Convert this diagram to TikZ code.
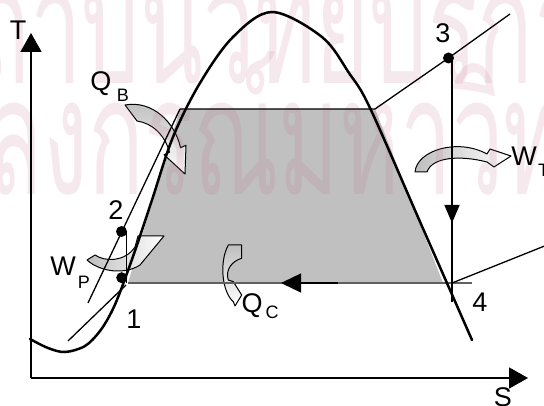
\documentclass[tikz,border=0pt]{standalone}
\usepackage{fontspec}
\setmainfont{Liberation Sans}
\newfontfamily\thaifont[Script=Thai,FakeStretch=0.565]{Loma}
\usetikzlibrary{arrows.meta}
\definecolor{wmcol}{RGB}{195,108,135}
\definecolor{regiongray}{RGB}{192,192,192}
\definecolor{edgegray}{RGB}{96,96,96}
\definecolor{arrowgray}{RGB}{190,190,190}
\begin{document}
\begin{tikzpicture}[x=1pt,y=-1pt,
  lbl/.style={font=\fontsize{27}{32}\selectfont, inner sep=0pt, anchor=base},
  sub/.style={font=\fontsize{18}{22}\selectfont, inner sep=0pt, anchor=base},
  wm/.style={font=\thaifont\fontsize{163}{163}\selectfont, text=wmcol, text opacity=0.15, inner sep=0pt, anchor=base west},
  thinline/.style={line width=1.3pt},
  axisline/.style={line width=1.8pt, -{Triangle[length=19pt,width=21pt]}},
  domeline/.style={line width=2.5pt, line cap=round},
  blockarrow/.style={draw=black, line width=1pt, line join=round},
  dot/.style={circle, fill=black, inner sep=0pt, minimum size=11pt},
]
\useasboundingbox (0,0) rectangle (544,406);
\fill[white] (0,0) rectangle (544,406);
% key points
\coordinate (O) at (31,378);
\coordinate (Ttip) at (31,33);
\coordinate (Stip) at (528,378);
\coordinate (cBL) at (128,283);
\coordinate (cTL) at (180,109);
\coordinate (cTR) at (375,109);
\coordinate (cBR) at (443,283);
\coordinate (p4) at (452,283);
% gray region
\fill[regiongray] (cBL) -- (cTL) -- (cTR) -- (cBR) -- cycle;
% block arrows
\draw[blockarrow, top color=arrowgray, middle color=white, bottom color=white]
 (125,105) .. controls (152,100) and (175,122) .. (180.5,147.7)
 -- (186,145.3) -- (185,174) -- (164,154.7) -- (169.5,152.3)
 .. controls (165,135) and (152,123) .. (137,121) -- cycle;
\draw[blockarrow, left color=arrowgray, middle color=white, right color=white]
 (415,172) .. controls (417,150) and (458,138) .. (487,154)
 -- (490,149) -- (511,156) -- (494,167) -- (487,162)
 .. controls (460,155) and (432,157) .. (427,172) -- cycle;
\draw[blockarrow, left color=arrowgray, middle color=white, right color=white]
 (95,255) -- (87,260)
 .. controls (100,272) and (125,275) .. (140,265)
 -- (164,236) -- (138,236) -- (135,247)
 .. controls (125,262) and (105,262) .. (95,255) -- cycle;
\draw[blockarrow, top color=arrowgray, middle color=white, bottom color=white]
 (228.3,245) -- (241.7,245) -- (241.7,258.3)
 .. controls (232,261) and (225,270) .. (228.3,280)
 -- (233.3,281.7) -- (241.7,295) -- (235,306) -- (233.3,301.7)
 .. controls (222,292) and (219,262) .. (228.3,245) -- cycle;
% watermark
\node[wm] (wm1) at (-82,84) {สถาบันวิทยบริการ};
\node[wm] (wm2) at (-182,195) {จุฬาลงกรณ์มหาวิทยาลัย};
% dots
\node[dot] (d1) at (121.7,277.7) {};
\node[dot] (d2) at (121.5,231.5) {};
\node[dot] (d3) at (448.5,58) {};
% lines
\draw[edgegray, line width=1.3pt] (cBL) -- (472,283);
\draw[line width=1.3pt, -{Triangle[length=20pt,width=19pt]}] (338,283) -- (281,283);
\draw[thinline] (cTL) -- (cTR) -- (d3.center) -- (510,14);
\draw[line width=1.5pt] (452,55) -- (452,302);
\draw[line width=1.5pt, -{Triangle[length=18pt,width=15pt]}] (452,150) -- (452,223);
\draw[thinline] (p4) -- (560,239.8);
\draw[thinline] (88,303) -- (cTL);
\draw[thinline] (126.5,231) -- (126.5,283);
\draw[thinline] (68,341) -- (126,285);
% axes
\draw[axisline] (O) -- (Ttip);
\draw[axisline] (O) -- (Stip);
% saturation dome
\draw[domeline] plot[smooth, tension=0.55] coordinates {(30,339) (48,348) (65,352) (85,346) (100,331) (112,311) (122,287) (137,245) (152,200) (173,137) (200,83) (233,37) (272,12) (322,37) (349,73) (370,108) (421,224) (472,340)};
% labels
\node[lbl] (lT) at (18,40) {T};
\node[lbl] (lQB) at (101,91) {Q};
\node[sub] (lB) at (123,102) {B};
\node[lbl] (l2) at (116,220) {2};
\node[lbl] (l1) at (134,329) {1};
\node[lbl] (lW) at (63,276) {W};
\node[sub] (lP) at (84,289) {P};
\node[lbl] (lQC) at (252,313) {Q};
\node[sub] (lC) at (272,319) {C};
\node[lbl] (l3) at (443,43) {3};
\node[lbl] (l4) at (480,312) {4};
\node[lbl] (lWT) at (524,166) {W};
\node[sub, anchor=base west] (lT2) at (538,177) {T};
\node[lbl] (lS) at (503,406) {S};
\end{tikzpicture}
\end{document}
